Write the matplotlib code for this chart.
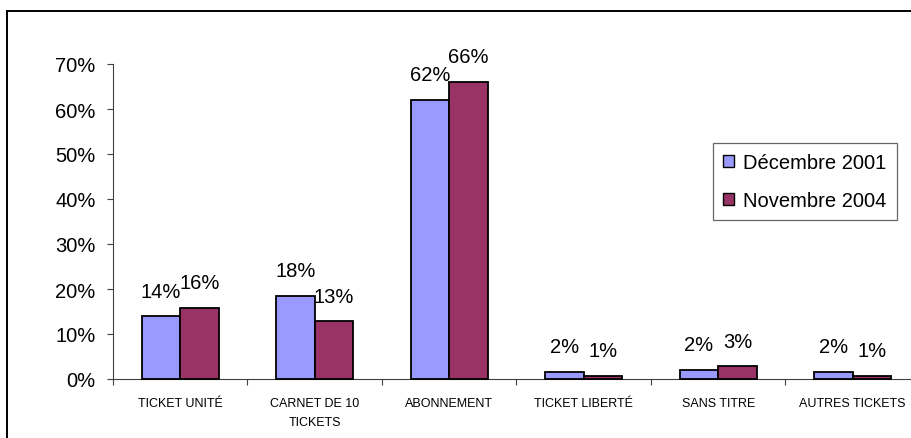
import numpy as np
import matplotlib
matplotlib.use("Agg")
import matplotlib.pyplot as plt
from matplotlib.patches import Rectangle
from matplotlib.ticker import PercentFormatter

# Data
categories = ["TICKET UNITÉ", "CARNET DE 10\nTICKETS", "ABONNEMENT",
              "TICKET LIBERTÉ", "SANS TITRE", "AUTRES TICKETS"]
dec_2001 = [14.0, 18.5, 62.1, 1.6, 2.1, 1.6]
nov_2004 = [15.8, 12.8, 66.1, 0.7, 2.9, 0.7]
series_names = ["Décembre 2001", "Novembre 2004"]

plt.rcParams['font.family'] = ['Liberation Sans', 'DejaVu Sans']

W, H = 912, 439
fig = plt.figure(figsize=(W / 100, H / 100), dpi=100, facecolor='white')

# axes: y axis at x=113px, 0% at y=380px, 70% at y=65px, 134.5px per category
ax = fig.add_axes([113 / W, (H - 380) / H, 6 * 134.5 / W, 315 / H])
ax.set_facecolor('white')

x = np.arange(len(categories))
w = 1 / 3.5  # Excel gap width 150%
colors = ["#9999FF", "#993366"]

for k, vals in enumerate([dec_2001, nov_2004]):
    bars = ax.bar(x + (k - 0.5) * w, vals, width=w, color=colors[k],
                  edgecolor='black', linewidth=1.3, label=series_names[k],
                  clip_on=False, zorder=3)
    for b, v in zip(bars, vals):
        ax.annotate(f"{v:.0f}%", (b.get_x() + b.get_width() / 2, b.get_height()),
                    xytext=(0, 14), textcoords='offset points',
                    ha='center', va='baseline', fontsize=14.5, clip_on=False)

ax.set_xlim(-0.5, 5.5)
ax.set_ylim(0, 70)
ax.set_yticks(np.arange(0, 71, 10))
ax.yaxis.set_major_formatter(PercentFormatter(decimals=0))
ax.tick_params(axis='y', direction='out', length=4.5, width=0.8,
               labelsize=14.5, pad=8, color='#404040')

# category boundaries carry the tick marks, centers carry the labels
ax.set_xticks(np.arange(-0.5, 6, 1))
ax.set_xticklabels([])
ax.set_xticks(x, minor=True)
ax.set_xticklabels(categories, minor=True, fontsize=9, linespacing=1.75,
                   va='top')
ax.tick_params(axis='x', which='major', direction='out', length=4.5,
               width=0.8, color='#404040')
ax.tick_params(axis='x', which='minor', length=0, pad=13)

for s in ['top', 'right']:
    ax.spines[s].set_visible(False)
ax.spines['left'].set_color('#404040')
ax.spines['left'].set_linewidth(0.8)
ax.spines['bottom'].set_color('#404040')
ax.spines['bottom'].set_linewidth(0.8)

leg = fig.legend(loc='upper left', bbox_to_anchor=(713 / W, 1 - 144 / H),
                 fontsize=14.5, frameon=True, fancybox=False,
                 handlelength=0.55, handleheight=0.55, handletextpad=0.45,
                 labelspacing=0.95, borderpad=0.5, borderaxespad=0)
leg.get_frame().set_edgecolor('#404040')
leg.get_frame().set_linewidth(0.9)
for h in leg.legend_handles:
    h.set_linewidth(1.0)

# outer chart border (cut off at the right and bottom)
fig.patches.append(Rectangle((7 / W, -0.1), 1.2, 1.1 - 12.5 / H,
                             transform=fig.transFigure, fill=False,
                             edgecolor='black', linewidth=1.4))

fig.savefig("out.png", dpi=100, facecolor='white')
